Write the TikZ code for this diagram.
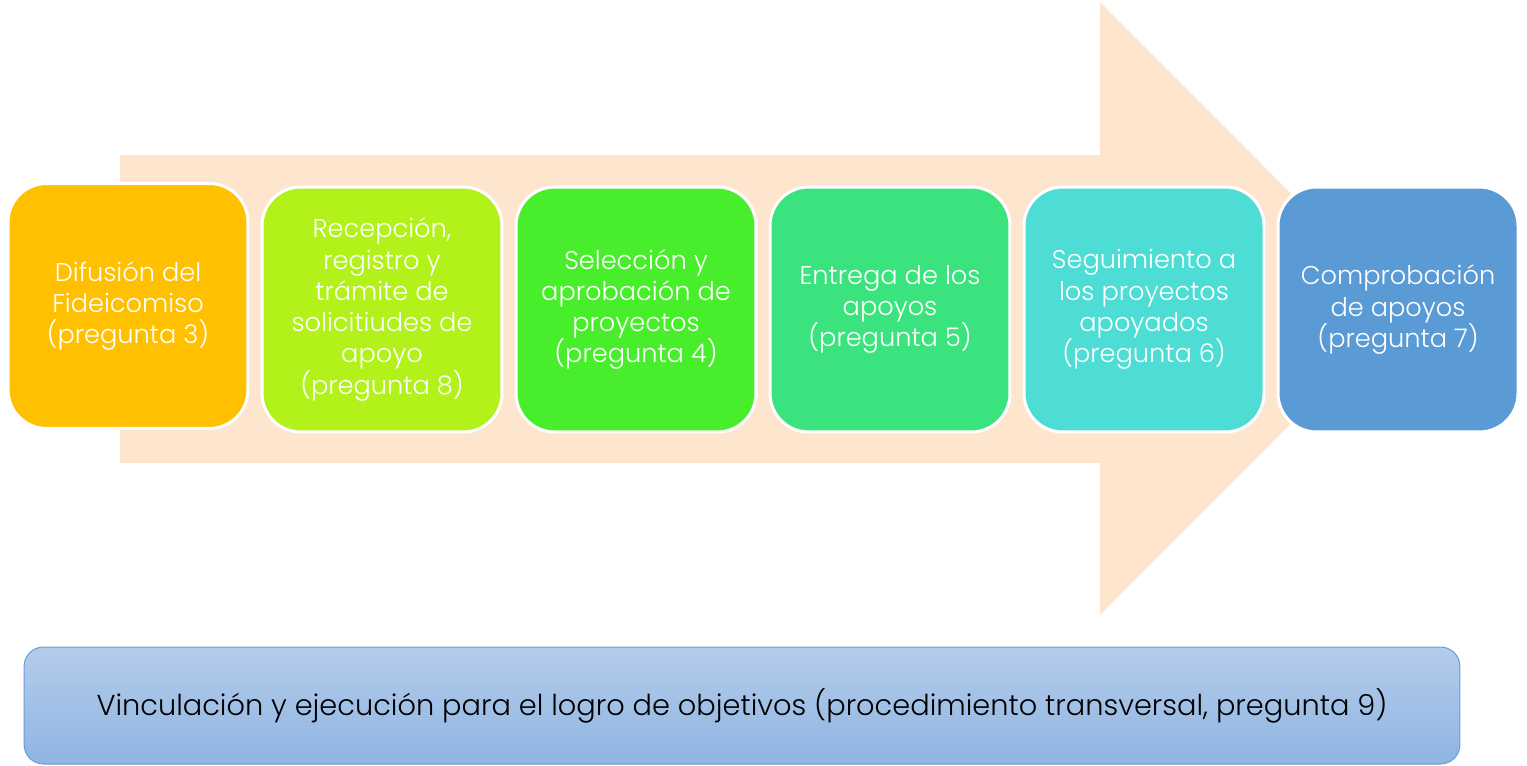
\documentclass[tikz,border=0pt]{standalone}
\usepackage{fontspec}
\setmainfont{Poppins}[UprightFont=* Light]
\usetikzlibrary{shapes.misc}
\definecolor{peach}{HTML}{FDE6CD}
\definecolor{cA}{HTML}{FFC000}
\definecolor{cB}{HTML}{B2F21A}
\definecolor{cC}{HTML}{48EE2B}
\definecolor{cD}{HTML}{3BE37E}
\definecolor{cE}{HTML}{4EDDD4}
\definecolor{cF}{HTML}{5B9BD5}
\definecolor{barTop}{HTML}{B4CCEA}
\definecolor{barBot}{HTML}{8FB5E3}
\definecolor{barLine}{HTML}{6C9FD8}
\tikzset{
  stepbox/.style={draw=white, line width=1.7pt, rounded corners=22pt,
    minimum width=4.8cm, minimum height=4.9cm, text=white, align=center,
    font=\fontsize{14.6}{17.8}\selectfont, inner sep=0pt},
  barbox/.style={draw=barLine, line width=0.6pt, rounded corners=11pt,
    top color=barTop, bottom color=barBot, minimum width=28.72cm,
    minimum height=2.34cm, font=\fontsize{16.4}{19}\selectfont, text=black}
}
\begin{document}
\begin{tikzpicture}[x=0.02cm, y=-0.02cm]
\useasboundingbox (0,0) rectangle (1527,765);
% big arrow
\fill[peach] (120,155) -- (1100,155) -- (1100,2) -- (1406,308.5) -- (1100,615)
  -- (1100,463) -- (120,463) -- cycle;
\node[stepbox, fill=cA] (s1) at (128,306) {Difusión del\\Fideicomiso\\(pregunta 3)};
\node[stepbox, fill=cB] (s2) at (382,309.5) {Recepción,\\registro y\\trámite de\\solicitiudes de\\apoyo\\(pregunta 8)};
\node[stepbox, fill=cC] (s3) at (636,309.5) {Selección y\\aprobación de\\proyectos\\(pregunta 4)};
\node[stepbox, fill=cD] (s4) at (890,309.5) {Entrega de los\\apoyos\\(pregunta 5)};
\node[stepbox, fill=cE] (s5) at (1144,309.5) {Seguimiento a\\los proyectos\\apoyados\\(pregunta 6)};
\node[stepbox, fill=cF] (s6) at (1398,309.5) {Comprobación\\de apoyos\\(pregunta 7)};
\node[barbox] (bar) at (742,705.5) {Vinculación y ejecución para el logro de objetivos (procedimiento transversal, pregunta 9)};
\end{tikzpicture}
\end{document}
